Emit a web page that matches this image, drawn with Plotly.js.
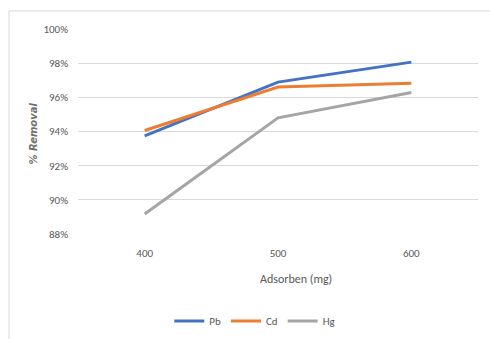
<!DOCTYPE html>
<html><head><meta charset="utf-8">
<script src="https://cdn.plot.ly/plotly-3.0.1.min.js"></script>
<style>html,body{margin:0;padding:0;background:#fff;}#c{width:490px;height:339px;}</style>
</head><body><div id="c"></div>
<script>
const categories = ['400', '500', '600'];
const seriesNames = ['Pb', 'Cd', 'Hg'];
const pb = [0.9375, 0.9689, 0.9806];
const cd = [0.9406, 0.9660, 0.9683];
const hg = [0.8917, 0.9480, 0.9628];
const yTicks = [0.88, 0.90, 0.92, 0.94, 0.96, 0.98, 1.00];
const colors = ['#4472C4', '#ED7D31', '#A5A5A5'];
const font = 'Carlito, "Liberation Sans Narrow", "Liberation Sans", Arial, sans-serif';

const data = [pb, cd, hg].map((v, i) => ({
  x: categories, y: v, type: 'scatter', mode: 'lines', name: seriesNames[i],
  line: {color: colors[i], width: 3}
}));

const layout = {
  width: 490, height: 339,
  margin: {l: 78, r: 12, t: 29, b: 105},
  paper_bgcolor: '#fff', plot_bgcolor: '#fff',
  font: {family: font, size: 11, color: '#595959'},
  showlegend: true,
  legend: {orientation: 'h', xref: 'container', yref: 'container', x: 0.52, xanchor: 'center',
           y: 0.053, yanchor: 'middle',
           font: {size: 11, color: '#595959'}, itemwidth: 30, tracegroupgap: 0},
  xaxis: {type: 'category', range: [-0.5, 2.5], showgrid: false, zeroline: false,
          showline: false, ticks: '', ticklabelstandoff: 11, automargin: false,
          tickfont: {size: 11, color: '#595959'}},
  yaxis: {range: [0.88, 1.0], tickvals: yTicks, tickformat: '.0%', showgrid: true,
          gridcolor: '#D9D9D9', gridwidth: 1, zeroline: false, showline: false, ticks: '',
          ticklabelstandoff: 9, automargin: false, tickfont: {size: 11, color: '#595959'}},
  annotations: [
    {text: 'Adsorben (mg)', xref: 'paper', yref: 'paper', x: 0.545, y: -0.22,
     xanchor: 'center', yanchor: 'middle', showarrow: false, font: {size: 12, color: '#595959'}},
    {text: '<b><i>% Removal</i></b>', xref: 'paper', yref: 'paper', x: -0.11, y: 0.49,
     xanchor: 'center', yanchor: 'middle', textangle: -90, showarrow: false,
     font: {family: '"DejaVu Sans", sans-serif', size: 10, color: '#6F6F6F'}}
  ],
  shapes: [
    {type: 'rect', xref: 'paper', yref: 'paper', x0: -0.1725, x1: 1.2, y0: -1.0, y1: 1.088,
     line: {color: '#D9D9D9', width: 1}, fillcolor: 'rgba(0,0,0,0)', layer: 'below'}
  ]
};
Plotly.newPlot('c', data, layout, {displayModeBar: false, staticPlot: true});
</script></body></html>
